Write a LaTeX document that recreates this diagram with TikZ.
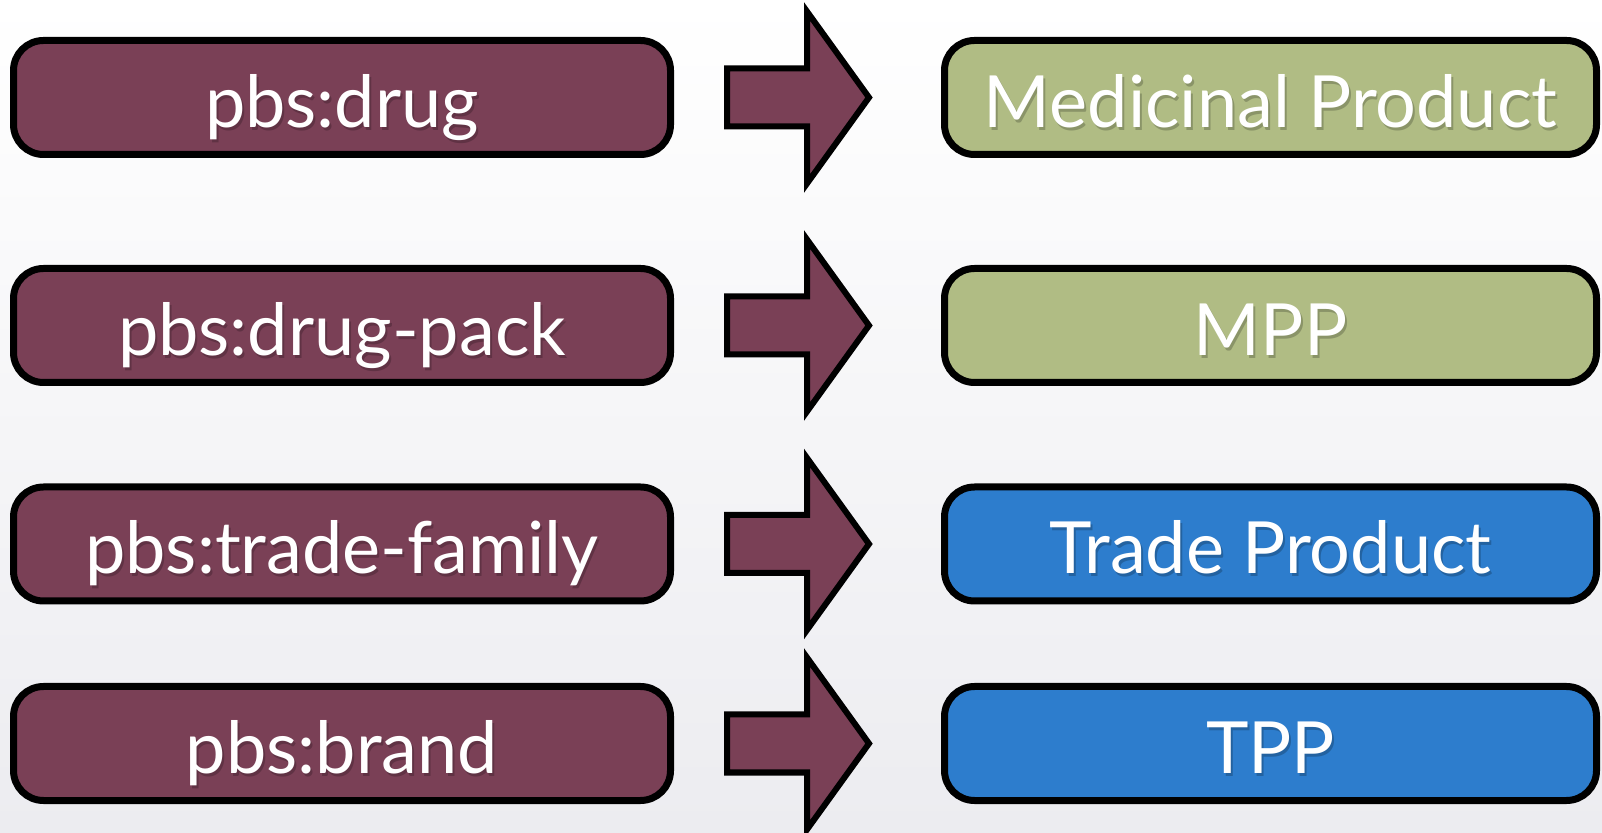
\documentclass[tikz,border=0pt]{standalone}
\usepackage{fontspec}
\setmainfont{Lato}
\usetikzlibrary{calc}
\definecolor{maroon}{RGB}{122,64,86}
\definecolor{sage}{RGB}{176,188,132}
\definecolor{azure}{RGB}{45,125,205}
\definecolor{maroonsh}{RGB}{96,50,68}
\definecolor{sagesh}{RGB}{138,148,104}
\definecolor{azuresh}{RGB}{35,98,160}
\definecolor{bgbot}{RGB}{236,236,240}
\newcommand\shtxt[1]{\leavevmode\rlap{\kern2pt\raisebox{-3pt}{\textcolor{\shcol}{#1}}}#1}
\tikzset{
  box/.style={draw=black, line width=7pt, rounded corners=30pt, minimum height=114pt,
    text=white, font=\fontsize{72}{84}\selectfont, inner sep=0pt,
    text height=74pt, text depth=14pt},
  lbox/.style={box, fill=maroon, minimum width=657pt, execute at begin node={\def\shcol{maroonsh}}},
  gbox/.style={box, fill=sage, minimum width=652pt, execute at begin node={\def\shcol{sagesh}}},
  bbox/.style={box, fill=azure, minimum width=652pt, execute at begin node={\def\shcol{azuresh}}},
  barrow/.style={draw=black, line width=6pt, fill=maroon, miter limit=10}
}
\begin{document}
\begin{tikzpicture}[x=1pt,y=1pt]
\useasboundingbox (0,0) rectangle (1602,832);
\fill[top color=white, bottom color=bgbot] (0,0) rectangle (1602,832);
\node[lbox] (l1) at (342,734.5) {\shtxt{pbs:drug}};
\node[lbox] (l2) at (342,506.5) {\shtxt{pbs:drug-pack}};
\node[lbox] (l3) at (342,288) {\shtxt{pbs:trade-family}};
\node[lbox] (l4) at (342,88.5) {\shtxt{pbs:brand}};
\node[gbox] (r1) at (1270.5,734.5) {\shtxt{Medicinal Product}};
\node[gbox] (r2) at (1270.5,506.5) {\shtxt{MPP}};
\node[bbox] (r3) at (1270.5,288) {\shtxt{Trade Product}};
\node[bbox] (r4) at (1270.5,88.5) {\shtxt{TPP}};
\foreach \i in {1,2,3,4}{
  \draw[barrow] ($(l\i.east)+(53,29)$) -- ($(l\i.east)+(133,29)$) -- ($(l\i.east)+(133,86)$)
    -- ($(l\i.east)+(195,0)$) -- ($(l\i.east)+(133,-86)$) -- ($(l\i.east)+(133,-29)$)
    -- ($(l\i.east)+(53,-29)$) -- cycle;
}
\end{tikzpicture}
\end{document}
